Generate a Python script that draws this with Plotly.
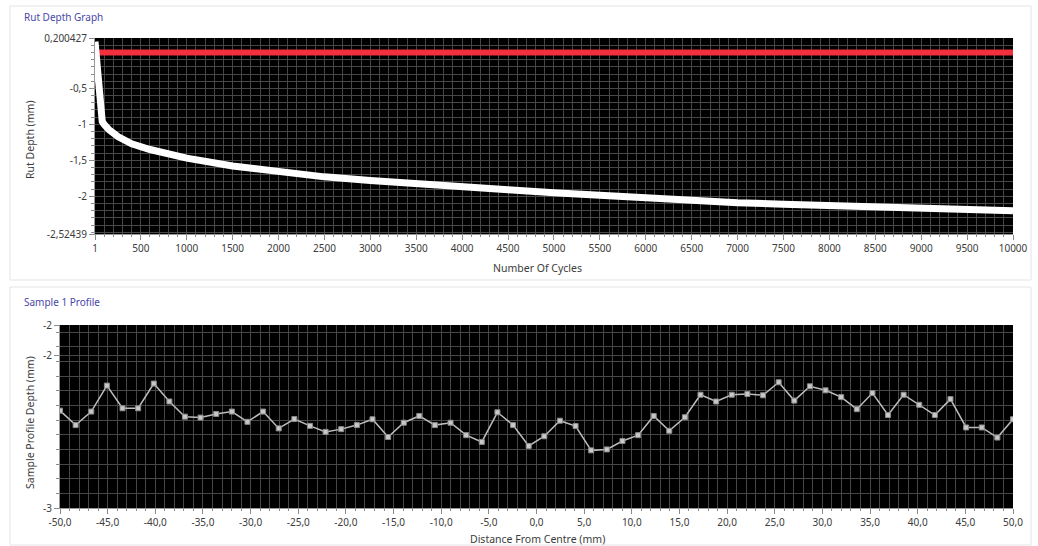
import plotly.graph_objects as go

# ---- Rut depth test: cycle count vs measured rut depth (mm) ----
cycles = [1, 5, 10, 20, 30, 40, 50, 60, 65, 70, 80, 100, 150, 250, 400, 600, 800,
          1000, 1500, 2000, 2500, 3000, 3500, 4000, 4500, 5000, 5500, 6000, 6500,
          7000, 7500, 8000, 8500, 9000, 9500, 10000]
rut_depth = [0.15, 0.08, 0.0, -0.15, -0.3, -0.42, -0.52, -0.58, -0.82, -0.9, -0.96,
             -1.0, -1.07, -1.17, -1.27, -1.35, -1.42, -1.47, -1.58, -1.66, -1.73,
             -1.78, -1.83, -1.87, -1.91, -1.95, -1.99, -2.03, -2.07, -2.09, -2.11,
             -2.13, -2.15, -2.17, -2.185, -2.2]

# zero reference line
ref_cycles = [1, 10000]
ref_depth = [0.0, 0.0]

cycle_ticks = [1, 500, 1000, 1500, 2000, 2500, 3000, 3500, 4000, 4500, 5000, 5500,
               6000, 6500, 7000, 7500, 8000, 8500, 9000, 9500, 10000]
cycle_tick_text = ["1", "500", "1000", "1500", "2000", "2500", "3000", "3500", "4000",
                   "4500", "5000", "5500", "6000", "6500", "7000", "7500", "8000",
                   "8500", "9000", "9500", "10000"]
rut_ticks = [0.200427, -0.5, -1, -1.5, -2, -2.52439]
rut_tick_text = ["0,200427", "-0,5", "-1", "-1,5", "-2", "-2,52439"]

# ---- Sample 1 transverse profile ----
distance = [-50.0, -48.36, -46.72, -45.08, -43.44, -41.80, -40.16, -38.52, -36.89,
            -35.25, -33.61, -31.97, -30.33, -28.69, -27.05, -25.41, -23.77, -22.13,
            -20.49, -18.85, -17.21, -15.57, -13.93, -12.30, -10.66, -9.02, -7.38,
            -5.74, -4.10, -2.46, -0.82, 0.82, 2.46, 4.10, 5.74, 7.38, 9.02, 10.66,
            12.30, 13.93, 15.57, 17.21, 18.85, 20.49, 22.13, 23.77, 25.41, 27.05,
            28.69, 30.33, 31.97, 33.61, 35.25, 36.89, 38.52, 40.16, 41.80, 43.44,
            45.08, 46.72, 48.36, 50.0]
profile_depth = [-2.468, -2.547, -2.473, -2.331, -2.455, -2.455, -2.320, -2.418,
                 -2.501, -2.506, -2.486, -2.473, -2.529, -2.473, -2.565, -2.514,
                 -2.551, -2.584, -2.569, -2.547, -2.515, -2.612, -2.534, -2.497,
                 -2.547, -2.534, -2.602, -2.639, -2.477, -2.547, -2.661, -2.608,
                 -2.523, -2.552, -2.685, -2.680, -2.634, -2.602, -2.497, -2.578,
                 -2.504, -2.381, -2.418, -2.381, -2.377, -2.384, -2.313, -2.413,
                 -2.335, -2.357, -2.394, -2.460, -2.372, -2.492, -2.381, -2.436,
                 -2.492, -2.405, -2.560, -2.560, -2.615, -2.515]

dist_ticks = [-50, -45, -40, -35, -30, -25, -20, -15, -10, -5, 0, 5, 10, 15, 20, 25,
              30, 35, 40, 45, 50]
dist_tick_text = ["-50,0", "-45,0", "-40,0", "-35,0", "-30,0", "-25,0", "-20,0",
                  "-15,0", "-10,0", "-5,0", "0,0", "5,0", "10,0", "15,0", "20,0",
                  "25,0", "30,0", "35,0", "40,0", "45,0", "50,0"]
prof_ticks = [-2, -2.166, -3]
prof_tick_text = ["-2", "-2", "-3"]

W, H = 1038, 546
FONT = "Noto Sans"
TICK_FONT = dict(family=FONT, size=10, color="#3c3c3c")
GRID = "#474747"


def fx(px):
    return px / W


def fy(px):
    return 1 - px / H


fig = go.Figure()

fig.add_trace(go.Scatter(x=ref_cycles, y=ref_depth, mode="lines",
                         line=dict(color="#f0303c", width=6),
                         xaxis="x", yaxis="y", showlegend=False, hoverinfo="skip"))
fig.add_trace(go.Scatter(x=cycles, y=rut_depth, mode="lines",
                         line=dict(color="#ffffff", width=7),
                         xaxis="x", yaxis="y", showlegend=False))
fig.add_trace(go.Scatter(x=distance, y=profile_depth, mode="lines+markers",
                         line=dict(color="#bdbdbd", width=1.5),
                         marker=dict(symbol="square", size=5, color="#c8c8c8",
                                     line=dict(color="#8a8a8a", width=1)),
                         xaxis="x2", yaxis="y2", showlegend=False))

common = dict(showline=True, linecolor="#9a9a9a", linewidth=1, ticks="outside",
              ticklen=5, tickcolor="#8a8a8a", tickfont=TICK_FONT, zeroline=False,
              showgrid=True, gridcolor=GRID, gridwidth=1,
              tickmode="array", automargin=False)


def minor_grid(tick0, dtick, ticklen):
    return dict(tickmode="linear", tick0=tick0, dtick=dtick, showgrid=True,
                gridcolor=GRID, gridwidth=1, ticks="outside", ticklen=ticklen,
                tickcolor="#8a8a8a")


fig.update_layout(
    width=W, height=H, margin=dict(l=0, r=0, t=0, b=0, autoexpand=False),
    paper_bgcolor="white", plot_bgcolor="black",
    xaxis=dict(domain=[fx(95), fx(1013)], range=[1, 10000], anchor="y",
               tickvals=cycle_ticks, ticktext=cycle_tick_text,
               minor=minor_grid(0, 100, 2), **common),
    yaxis=dict(domain=[fy(234), fy(38)], range=[-2.52439, 0.200427], anchor="x",
               tickvals=rut_ticks, ticktext=rut_tick_text,
               minor=minor_grid(0, 0.1, 3), **common),
    xaxis2=dict(domain=[fx(60), fx(1013)], range=[-50, 50], anchor="y2",
                tickvals=dist_ticks, ticktext=dist_tick_text,
                minor=minor_grid(0, 1, 2), **common),
    yaxis2=dict(domain=[fy(508), fy(325)], range=[-3, -2], anchor="x2",
                tickvals=prof_ticks, ticktext=prof_tick_text,
                minor=minor_grid(-3, 0.08, 3), **common),
)

# panel frames
fig.add_shape(type="rect", xref="paper", yref="paper", x0=fx(10), x1=fx(1031),
              y0=fy(280), y1=fy(6), line=dict(color="#e4e4e4", width=1),
              fillcolor="rgba(0,0,0,0)", layer="below")
fig.add_shape(type="rect", xref="paper", yref="paper", x0=fx(10), x1=fx(1031),
              y0=fy(545), y1=fy(287), line=dict(color="#e4e4e4", width=1),
              fillcolor="rgba(0,0,0,0)", layer="below")

title_font = dict(family=FONT, size=10, color="#4848a8")
label_font = dict(family=FONT, size=10.5, color="#3c3c3c")
annots = [
    dict(text="Rut Depth Graph", x=fx(22), y=fy(17), xanchor="left", yanchor="middle",
         font=title_font),
    dict(text="Sample 1 Profile", x=fx(22), y=fy(302), xanchor="left", yanchor="middle",
         font=title_font),
    dict(text="Number Of Cycles", x=fx(537), y=fy(268), xanchor="center",
         yanchor="middle", font=label_font),
    dict(text="Distance From Centre (mm)", x=fx(537), y=fy(539), xanchor="center",
         yanchor="middle", font=label_font),
    dict(text="Rut Depth (mm)", x=fx(30), y=fy(140), xanchor="center",
         yanchor="middle", textangle=-90, font=label_font),
    dict(text="Sample Profile Depth (mm)", x=fx(30), y=fy(423), xanchor="center",
         yanchor="middle", textangle=-90, font=label_font),
]
for a in annots:
    fig.add_annotation(xref="paper", yref="paper", showarrow=False, **a)

fig.write_html("out.html")
